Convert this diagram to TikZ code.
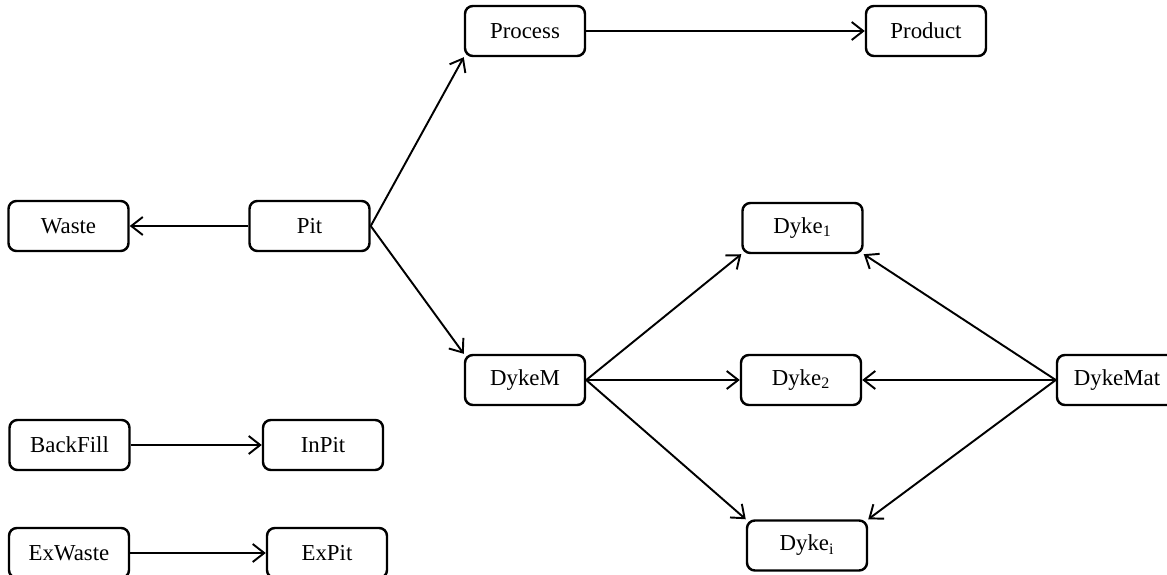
\documentclass[tikz,border=0pt]{standalone}
\usepackage{fontspec}
\setmainfont{Liberation Serif}
\usetikzlibrary{arrows.meta, positioning}
\tikzset{
  every picture/.style={font=\fontsize{13}{15}\selectfont, line width=1.1pt},
  box/.style={draw=black, line width=1.4pt, rounded corners=4.5pt, align=center, inner sep=2pt, minimum width=2.4cm, minimum height=1cm},
  arrow/.style={-{Straight Barb[length=2.3mm, width=3.6mm]}, draw=black, line width=1.1pt},
}
\begin{document}
\begin{tikzpicture}
  \useasboundingbox (0,0) rectangle (23.34,-11.5);
  \node[box] (waste) at (1.37,-4.52) {Waste};
  \node[box] (pit) at (6.19,-4.52) {Pit};
  \node[box] (process) at (10.5,-0.62) {Process};
  \node[box] (product) at (18.52,-0.62) {Product};
  \node[box] (dykem) at (10.5,-7.6) {DykeM};
  \node[box] (dyke1) at (16.05,-4.56) {Dyke\textsubscript{1}};
  \node[box] (dyke2) at (16.02,-7.6) {Dyke\textsubscript{2}};
  \node[box] (dykei) at (16.14,-10.91) {Dyke\textsubscript{i}};
  \node[box] (dykemat) at (22.34,-7.6) {DykeMat};
  \node[box] (backfill) at (1.39,-8.9) {BackFill};
  \node[box] (inpit) at (6.46,-8.9) {InPit};
  \node[box] (exwaste) at (1.38,-11.06) {ExWaste};
  \node[box] (expit) at (6.54,-11.06) {ExPit};
  \draw[arrow] (pit) -- (waste);
  \draw[arrow] (pit.east) -- (process.south west);
  \draw[arrow] (pit.east) -- (dykem.north west);
  \draw[arrow] (process) -- (product);
  \draw[arrow] (dykem.east) -- (dyke1.south west);
  \draw[arrow] (dykem.east) -- (dyke2.west);
  \draw[arrow] (dykem.east) -- (dykei.north west);
  \draw[arrow] (dykemat.west) -- (dyke1.south east);
  \draw[arrow] (dykemat.west) -- (dyke2.east);
  \draw[arrow] (dykemat.west) -- (dykei.north east);
  \draw[arrow] (backfill) -- (inpit);
  \draw[arrow] (exwaste) -- (expit);
\end{tikzpicture}
\end{document}
